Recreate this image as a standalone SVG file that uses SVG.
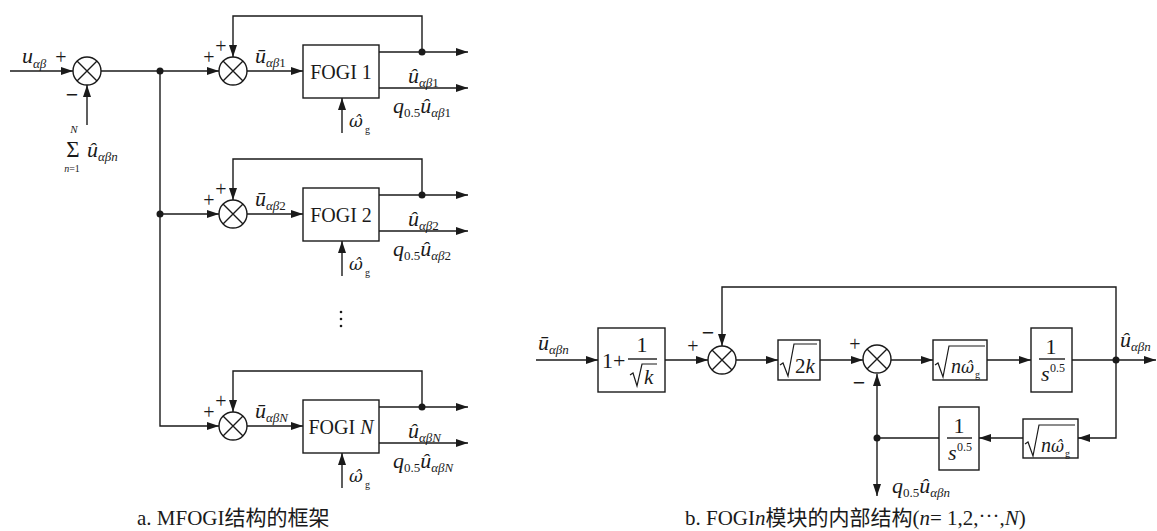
<svg xmlns="http://www.w3.org/2000/svg" width="1157" height="531" viewBox="0 0 1157 531">
<style>
.ln{fill:none;stroke:#1a1a1a;stroke-width:1.4}
.rad{fill:none;stroke:#1a1a1a;stroke-width:1.2;stroke-linejoin:miter}
.arr{marker-end:url(#ah)}
.bx{fill:#fff;stroke:#1a1a1a;stroke-width:1.4}
.dot{fill:#1a1a1a}
text{font-family:"Liberation Serif","Times New Roman",serif;fill:#1a1a1a}
.v{font-style:italic;font-size:22px}
.sb{font-size:13px}
.up{font-style:normal}
.t{font-size:20px}
.pm{font-size:20px;text-anchor:middle}
.mn{font-size:22px;font-weight:bold;text-anchor:middle}
.w{font-family:"DejaVu Serif",serif;font-style:italic;font-size:17px}
.cap{font-size:21px;font-family:"Liberation Serif","Noto Sans CJK SC",serif}
.mid{text-anchor:middle}
</style>
<defs>
<marker id="ah" viewBox="0 0 12 8" refX="12" refY="4" markerWidth="12" markerHeight="8" orient="auto" markerUnits="userSpaceOnUse"><path d="M0,0 L12,4 L0,8 z" fill="#1a1a1a"/></marker>
<g id="sumsym"><circle r="14" fill="#fff" stroke="#1a1a1a" stroke-width="1.4"/><path d="M-10,-10 L10,10 M-10,10 L10,-10" stroke="#1a1a1a" stroke-width="1.4"/></g>
</defs>

<!-- connectors -->
<g id="connectors">
<path class="ln arr" d="M10,71 H73"/>
<path class="ln arr" d="M87,125 V85"/>
<path class="ln arr" d="M101,71 H219"/>
<path class="ln arr" d="M160,71 V426 H219"/>
<path class="ln arr" d="M160,214 H219"/>
<path class="ln arr" d="M247,71 H303"/>
<path class="ln arr" d="M379,52 H468"/>
<path class="ln arr" d="M379,88 H468"/>
<path class="ln arr" d="M422,52 V16 H233 V57"/>
<path class="ln arr" d="M342,133 V98"/>
<path class="ln arr" d="M247,214 H303"/>
<path class="ln arr" d="M379,195 H468"/>
<path class="ln arr" d="M379,231 H468"/>
<path class="ln arr" d="M422,195 V159 H233 V200"/>
<path class="ln arr" d="M342,276 V241"/>
<path class="ln arr" d="M247,426 H303"/>
<path class="ln arr" d="M379,407 H468"/>
<path class="ln arr" d="M379,443 H468"/>
<path class="ln arr" d="M422,407 V371 H233 V412"/>
<path class="ln arr" d="M342,488 V453"/>
<circle class="dot" cx="160" cy="71" r="3.5"/>
<circle class="dot" cx="160" cy="214" r="3.5"/>
<circle class="dot" cx="422" cy="52" r="3.5"/>
<circle class="dot" cx="422" cy="195" r="3.5"/>
<circle class="dot" cx="422" cy="407" r="3.5"/>
<circle class="dot" cx="341" cy="312" r="1.3"/>
<circle class="dot" cx="341" cy="319" r="1.3"/>
<circle class="dot" cx="341" cy="326" r="1.3"/>
<path class="ln arr" d="M536,360 H598"/>
<path class="ln arr" d="M665,360 H708"/>
<path class="ln arr" d="M1116,360 V287 H722 V346"/>
<path class="ln arr" d="M736,360 H778"/>
<path class="ln arr" d="M820,360 H863"/>
<path class="ln arr" d="M891,360 H933"/>
<path class="ln arr" d="M987,360 H1031"/>
<path class="ln arr" d="M1072,360 H1156"/>
<path class="ln arr" d="M1116,360 V438 H1078"/>
<path class="ln arr" d="M1023,438 H979"/>
<path class="ln" d="M939,438 H877"/>
<path class="ln arr" d="M877,438 V374"/>
<path class="ln arr" d="M877,438 V496"/>
<circle class="dot" cx="1116" cy="360" r="3.5"/>
<circle class="dot" cx="877" cy="438" r="3.5"/>
</g>

<g id="sum0">
<use href="#sumsym" x="87" y="71"/>
<text class="pm" x="61" y="64">+</text>
<text class="mn" x="72" y="102">−</text>
</g>
<g id="lbl-in">
<text class="v" x="22" y="63">u<tspan class="sb" dy="5">αβ</tspan></text>
<text class="mid" x="74" y="133" style="font-size:11px;font-style:italic">N</text>
<text class="mid" x="73" y="157" style="font-size:23px">Σ</text>
<text class="mid" x="72" y="172" style="font-size:10px;font-style:italic">n<tspan font-style="normal">=1</tspan></text>
<text class="v" x="87" y="157">û<tspan class="sb" dy="4">αβn</tspan></text>
</g>

<g id="sum1">
<use href="#sumsym" x="233" y="71"/>
<text class="pm" x="209" y="64">+</text>
<text class="pm" x="221" y="53">+</text>
</g>
<g id="fogi1">
<rect class="bx" x="303" y="45" width="76" height="53"/>
<text class="t mid" x="341" y="79">FOGI 1</text>
</g>
<g id="lbl-r1">
<text class="v" x="255" y="63">ū<tspan class="sb" dy="4">αβ<tspan class="up">1</tspan></tspan></text>
<text class="v" x="408" y="83">û<tspan class="sb" dy="4">αβ<tspan class="up">1</tspan></tspan></text>
<text class="v" x="393" y="113">q<tspan class="sb up" dy="4">0.5</tspan><tspan dy="-4">û</tspan><tspan class="sb" dy="4">αβ<tspan class="up">1</tspan></tspan></text>
<text class="w" x="349" y="127">ω̂<tspan font-family="Liberation Serif" font-style="normal" font-size="10" dx="2" dy="6">g</tspan></text>
</g>

<g id="sum2">
<use href="#sumsym" x="233" y="214"/>
<text class="pm" x="209" y="207">+</text>
<text class="pm" x="221" y="196">+</text>
</g>
<g id="fogi2">
<rect class="bx" x="303" y="188" width="76" height="53"/>
<text class="t mid" x="341" y="222">FOGI 2</text>
</g>
<g id="lbl-r2">
<text class="v" x="255" y="206">ū<tspan class="sb" dy="4">αβ<tspan class="up">2</tspan></tspan></text>
<text class="v" x="408" y="226">û<tspan class="sb" dy="4">αβ<tspan class="up">2</tspan></tspan></text>
<text class="v" x="393" y="256">q<tspan class="sb up" dy="4">0.5</tspan><tspan dy="-4">û</tspan><tspan class="sb" dy="4">αβ<tspan class="up">2</tspan></tspan></text>
<text class="w" x="349" y="270">ω̂<tspan font-family="Liberation Serif" font-style="normal" font-size="10" dx="2" dy="6">g</tspan></text>
</g>

<g id="sumN">
<use href="#sumsym" x="233" y="426"/>
<text class="pm" x="209" y="419">+</text>
<text class="pm" x="221" y="408">+</text>
</g>
<g id="fogiN">
<rect class="bx" x="303" y="400" width="76" height="53"/>
<text class="t mid" x="341" y="434">FOGI <tspan font-style="italic">N</tspan></text>
</g>
<g id="lbl-rN">
<text class="v" x="255" y="418">ū<tspan class="sb" dy="4">αβN</tspan></text>
<text class="v" x="408" y="438">û<tspan class="sb" dy="4">αβN</tspan></text>
<text class="v" x="393" y="468">q<tspan class="sb up" dy="4">0.5</tspan><tspan dy="-4">û</tspan><tspan class="sb" dy="4">αβN</tspan></text>
<text class="w" x="349" y="482">ω̂<tspan font-family="Liberation Serif" font-style="normal" font-size="10" dx="2" dy="6">g</tspan></text>
</g>

<text class="cap" x="137" y="525">a. MFOGI结构的框架</text>

<g id="lbl-rin">
<text class="v" x="538" y="350">ū<tspan class="sb" dy="4">αβn</tspan></text>
</g>
<g id="gain">
<rect class="bx" x="598" y="328" width="67" height="64"/>
<text x="602" y="368" font-size="22">1+</text>
<text class="mid" x="642" y="352" font-size="22">1</text>
<line class="ln" x1="628" y1="359" x2="657" y2="359"/>
<path class="rad" d="M630,375 L633,373 L637,386 L642,364 H657"/>
<text x="644" y="384" font-size="21" font-style="italic">k</text>
</g>
<g id="sumA">
<use href="#sumsym" x="722" y="360"/>
<text class="pm" x="693" y="353">+</text>
<text class="mn" x="708" y="340">−</text>
</g>
<g id="sqrt2k">
<rect class="bx" x="778" y="340" width="42" height="40"/>
<path class="rad" d="M780,365 L783,363 L788,376 L794,344 H817"/>
<text x="795" y="373" font-size="21">2<tspan font-style="italic">k</tspan></text>
</g>
<g id="sumB">
<use href="#sumsym" x="877" y="359"/>
<text class="pm" x="855" y="351">+</text>
<text class="mn" x="859" y="390">−</text>
</g>
<g id="sqrtnw1">
<rect class="bx" x="933" y="340" width="54" height="40"/>
<path class="rad" d="M935,365 L938,363 L943,377 L949,346 H985"/>
<text x="951" y="373" style="font-size:20px;font-style:italic">n<tspan font-family="DejaVu Serif" font-size="16">ω̂</tspan><tspan font-style="normal" font-size="10" dx="1" dy="5">g</tspan></text>
</g>
<g id="int1">
<rect class="bx" x="1031" y="328" width="41" height="64"/>
<text class="mid" x="1051" y="354" font-size="22">1</text>
<line class="ln" x1="1039" y1="359" x2="1065" y2="359"/>
<text x="1041" y="381" font-size="22" font-style="italic">s</text>
<text x="1050" y="372" font-size="12">0.5</text>
</g>
<g id="lbl-rout">
<text class="v" x="1120" y="347">û<tspan class="sb" dy="4">αβn</tspan></text>
</g>
<g id="sqrtnw2">
<rect class="bx" x="1023" y="419" width="55" height="39"/>
<path class="rad" d="M1025,444 L1028,442 L1033,456 L1039,425 H1075"/>
<text x="1041" y="452" style="font-size:20px;font-style:italic">n<tspan font-family="DejaVu Serif" font-size="16">ω̂</tspan><tspan font-style="normal" font-size="10" dx="1" dy="5">g</tspan></text>
</g>
<g id="int2">
<rect class="bx" x="939" y="407" width="40" height="63"/>
<text class="mid" x="959" y="433" font-size="22">1</text>
<line class="ln" x1="947" y1="438" x2="972" y2="438"/>
<text x="948" y="460" font-size="22" font-style="italic">s</text>
<text x="957" y="451" font-size="12">0.5</text>
</g>
<g id="lbl-q">
<text class="v" x="892" y="493">q<tspan class="sb up" dy="4">0.5</tspan><tspan dy="-4">û</tspan><tspan class="sb" dy="4">αβn</tspan></text>
</g>

<text class="cap" x="685" y="525">b. FOGI<tspan font-style="italic">n</tspan>模块的内部结构(<tspan font-style="italic">n</tspan>= 1,2,<tspan dy="-2">···</tspan><tspan dy="2">,</tspan><tspan font-style="italic">N</tspan>)</text>
</svg>
